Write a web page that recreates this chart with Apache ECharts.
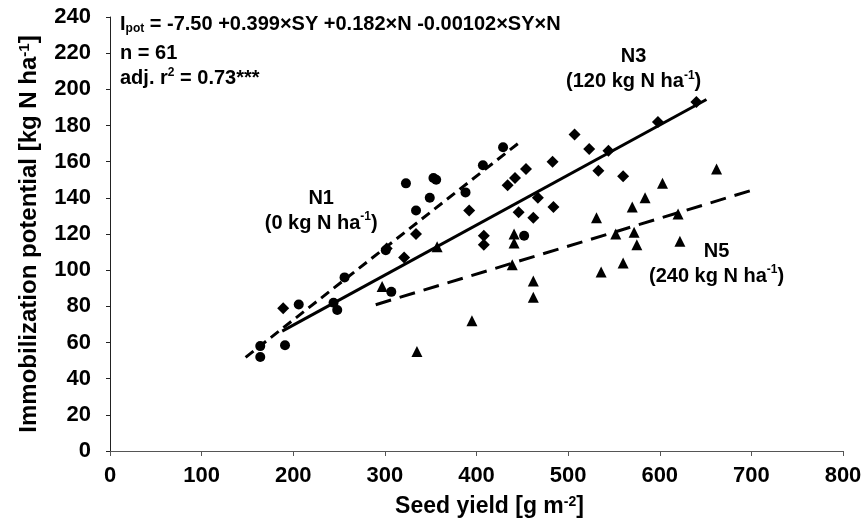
<!DOCTYPE html>
<html>
<head>
<meta charset="utf-8">
<script src="https://cdn.jsdelivr.net/npm/echarts@6/dist/echarts.min.js"></script>
<style>
  html, body { margin: 0; padding: 0; background: #fff; }
  #chart { width: 865px; height: 527px; }
</style>
</head>
<body>
<div id="chart"></div>
<script>
// N1 (0 kg N/ha) - circles
const n1Points = [
  [164, 52], [164, 58], [191, 58.5], [206, 81], [244, 82], [248, 78],
  [256, 96], [301, 111], [307, 88], [323, 148], [334, 133], [349, 140],
  [353, 151], [356, 150], [388, 143], [407, 158], [429, 168], [452, 119]
];
// N3 (120 kg N/ha) - diamonds
const n3Points = [
  [189, 79], [302, 112], [321, 107], [334, 120], [392, 133], [408, 114],
  [408, 119], [434, 147], [442, 151], [446, 132], [454, 156], [462, 129],
  [467, 140], [483, 160], [484, 135], [507, 175], [523, 167], [533, 155],
  [544, 166], [560, 152], [598, 182], [640, 193]
];
// N5 (240 kg N/ha) - triangles
const n5Points = [
  [297, 91], [335, 55], [357, 113], [395, 72], [439, 103], [441, 115],
  [441, 120], [462, 85], [462, 94], [531, 129], [536, 99], [552, 120],
  [560, 104], [570, 135], [572, 121], [575, 114], [584, 140], [603, 148],
  [620, 131], [622, 116], [662, 156]
];
// fitted lines, end points
const n1Line = [[148, 51.8], [449, 171.5]];
const n3Line = [[188, 66.3], [651, 194.4]];
const n5Line = [[290, 80.9], [700, 144.1]];

// group labels: position + text
const groupLabels = [
  { pos: [230.5, 133], name: 'N1', dose: '0' },
  { pos: [571.5, 211], name: 'N3', dose: '120' },
  { pos: [662, 103.5], name: 'N5', dose: '240' }
];

const xTicks = { min: 0, max: 800, interval: 100 };
const yTicks = { min: 0, max: 240, interval: 20 };

const FONT = 'Liberation Sans, Arial, sans-serif';
const richTitle = size => ({
  b: { fontSize: size, fontWeight: 'bold', fontFamily: FONT, color: '#000' },
  sup: { fontSize: Math.round(size * 0.62), fontWeight: 'bold', fontFamily: FONT, color: '#000', verticalAlign: 'top', lineHeight: 14 }
});
const richAnno = {
  b: { fontSize: 20, fontWeight: 'bold', fontFamily: FONT, color: '#000', lineHeight: 22 },
  sup: { fontSize: 12, fontWeight: 'bold', fontFamily: FONT, color: '#000', verticalAlign: 'top', lineHeight: 12 },
  sub: { fontSize: 12, fontWeight: 'bold', fontFamily: FONT, color: '#000', verticalAlign: 'bottom', lineHeight: 12 }
};

const chart = echarts.init(document.getElementById('chart'), null, { renderer: 'canvas' });

const markerSeries = (data, symbol, size) => ({
  type: 'scatter',
  data: data,
  symbol: symbol,
  symbolSize: size,
  itemStyle: { color: '#000', opacity: 1 },
  z: 3
});
const lineSeries = (data, type) => ({
  type: 'line',
  data: data,
  symbol: 'none',
  lineStyle: { color: '#000', width: 3, type: type, cap: 'butt' },
  z: 2
});

const option = {
  animation: false,
  backgroundColor: '#fff',
  grid: { left: 110, right: 22, top: 17, bottom: 76, containLabel: false },
  xAxis: {
    type: 'value',
    min: xTicks.min, max: xTicks.max, interval: xTicks.interval,
    name: '{b|Seed yield [g m}{sup|-2}{b|]}',
    nameLocation: 'middle',
    nameGap: 44,
    nameTextStyle: { rich: richTitle(23), padding: [0, 0, 0, 26] },
    axisLine: { lineStyle: { color: '#555', width: 1 } },
    axisTick: { show: true, length: 5, lineStyle: { color: '#555' } },
    axisLabel: { color: '#000', fontSize: 22, fontWeight: 'bold', fontFamily: FONT, margin: 14 },
    splitLine: { show: false }
  },
  yAxis: {
    type: 'value',
    min: yTicks.min, max: yTicks.max, interval: yTicks.interval,
    name: '{b|Immobilization potential [kg N ha}{sup|-1}{b|]}',
    nameLocation: 'middle',
    nameGap: 69,
    nameTextStyle: { rich: richTitle(24) },
    axisLine: { show: true, lineStyle: { color: '#222', width: 1 } },
    axisTick: { show: true, length: 4, lineStyle: { color: '#222' } },
    axisLabel: { color: '#000', fontSize: 22, fontWeight: 'bold', fontFamily: FONT, margin: 19 },
    splitLine: { show: false }
  },
  series: [
    lineSeries(n1Line, [10, 6]),
    lineSeries(n3Line, 'solid'),
    lineSeries(n5Line, [16, 9]),
    markerSeries(n1Points, 'circle', 10),
    markerSeries(n3Points, 'diamond', 12),
    markerSeries(n5Points, 'triangle', 11),
    {
      // text labels for the three N levels
      type: 'scatter',
      symbolSize: 0,
      silent: true,
      itemStyle: { opacity: 1 },
      data: groupLabels.map(g => ({ value: g.pos, g: g })),
      label: {
        show: true,
        position: 'inside',
        align: 'center',
        color: '#000',
        opacity: 1,
        formatter: p => '{b|' + p.data.g.name + '}\n{b|(' + p.data.g.dose + ' kg N ha}{sup|-1}{b|)}',
        rich: {
          b: { fontSize: 20, fontWeight: 'bold', fontFamily: FONT, color: '#000', lineHeight: 25 },
          sup: { fontSize: 12, fontWeight: 'bold', fontFamily: FONT, color: '#000', verticalAlign: 'top', lineHeight: 14 }
        }
      },
      z: 4
    }
  ],
  graphic: [
    {
      type: 'text', left: 120, top: 14,
      style: { text: '{b|I}{sub|pot}{b| = -7.50 +0.399×SY +0.182×N -0.00102×SY×N}', rich: richAnno }
    },
    {
      type: 'text', left: 120, top: 43,
      style: { text: '{b|n = 61}', rich: richAnno }
    },
    {
      type: 'text', left: 120, top: 67,
      style: { text: '{b|adj. r}{sup|2}{b| = 0.73***}', rich: richAnno }
    }
  ]
};

chart.setOption(option);
</script>
</body>
</html>
